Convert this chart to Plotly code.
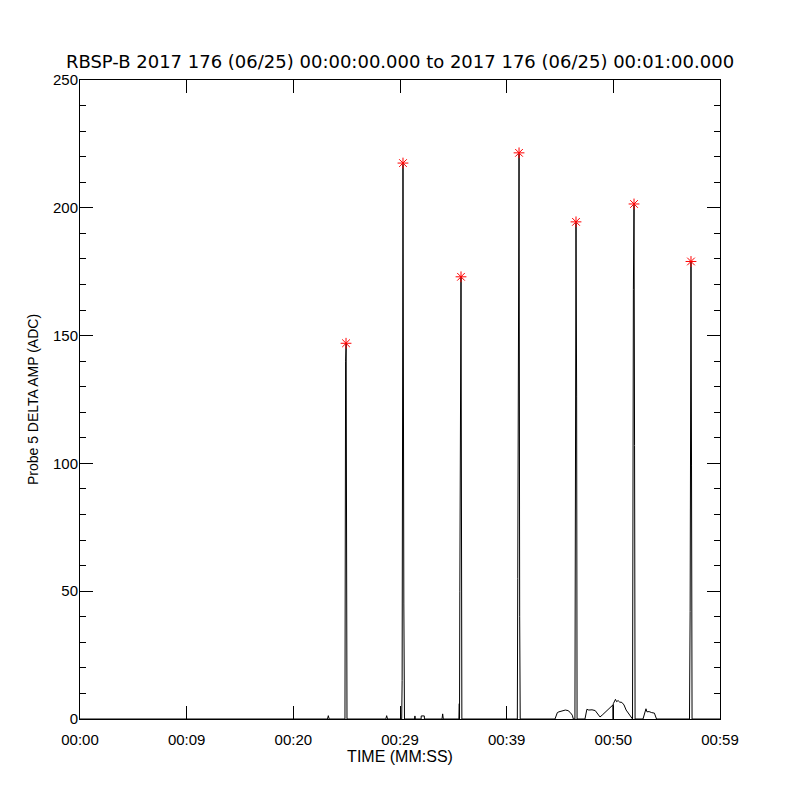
import plotly.graph_objects as go

# Signal trace (seconds after 00:00:00, ADC amplitude)
time_s = [0.0, 23.20, 23.28, 23.36, 24.84, 24.87, 24.90, 24.95, 24.99, 25.03,
          28.67, 28.75, 28.83, 30.16, 30.20, 30.24, 30.28, 30.36, 30.42,
          31.36, 31.40, 31.44, 31.98, 31.99, 32.28, 32.29, 33.94, 34.00, 34.06,
          35.52, 35.56, 35.58, 35.61, 35.66, 35.72, 35.80,
          41.00, 41.04, 41.10, 41.16, 41.22, 41.27,
          44.53, 44.75, 44.90, 45.10, 45.30, 45.50, 45.75, 45.95, 46.15, 46.25,
          46.40, 46.50, 46.56, 46.60,
          47.34, 47.52, 47.70, 48.00, 48.30, 48.55, 48.75, 48.95, 49.20, 49.50,
          49.80, 49.96, 49.98, 50.00, 50.20, 50.30, 50.45, 50.60, 50.80, 51.00,
          51.20, 51.50, 51.75,
          51.80, 51.88, 51.94, 51.99, 52.04,
          52.78, 52.95, 53.06, 53.15, 53.35, 53.60, 53.85, 54.05,
          57.14, 57.20, 57.28, 57.33, 57.38, 60.0]
amp_adc = [0, 0, 1.3, 0, 0, 140, 140, 147, 73, 0,
           0, 1.3, 0, 0, 15, 153, 217, 45, 0,
           0, 1.2, 0, 0, 1.2, 1.2, 0, 0, 2, 0,
           0, 6, 0, 50, 92, 173, 0,
           0, 55, 150, 221, 40, 0,
           0, 2.5, 2.8, 3.0, 3.4, 3.5, 3.3, 2.6, 1.5, 0,
           0, 194, 126, 0,
           0, 3.8, 3.5, 3.6, 3.3, 2.0, 0.8, 1.5, 2.5, 3.5,
           5.0, 5.5, 0, 6.0, 7.7, 6.8, 7.2, 6.6, 6.5, 5.5,
           3.5, 1.5, 0,
           0, 168, 201, 107, 0,
           0, 3.2, 4.0, 2.8, 2.9, 2.5, 2.3, 0,
           0, 42, 179, 99, 0, 0]

# Peak markers
peak_t = [24.94, 30.28, 35.72, 41.16, 46.50, 51.94, 57.28]
peak_amp = [147, 217.5, 173, 221.5, 194.5, 201.5, 179]

x_tickvals = [0, 10, 20, 30, 40, 50, 60]
x_ticktext = ["00:00", "00:09", "00:20", "00:29", "00:39", "00:50", "00:59"]
y_tickvals = [0, 50, 100, 150, 200, 250]

FONT = "Liberation Sans"

fig = go.Figure()
fig.add_trace(go.Scatter(x=time_s, y=amp_adc, mode="lines",
                         line=dict(color="black", width=1), hoverinfo="skip"))
fig.add_trace(go.Scatter(x=peak_t, y=peak_amp, mode="markers",
                         marker=dict(symbol="asterisk-open", size=9, color="red",
                                     line=dict(color="red", width=1))))

fig.update_layout(
    width=800, height=800,
    paper_bgcolor="white", plot_bgcolor="white",
    showlegend=False,
    margin=dict(l=80, r=80, t=80, b=81),
    font=dict(family=FONT, color="black", size=14),
    title=dict(text="RBSP-B 2017 176 (06/25) 00:00:00.000 to 2017 176 (06/25) 00:01:00.000",
               x=0.5, xanchor="center", y=1 - 62 / 800, yanchor="middle",
               font=dict(size=18, family="DejaVu Sans", color="black")),
)
fig.update_xaxes(
    range=[0, 60], tickvals=x_tickvals, ticktext=x_ticktext,
    showline=True, linecolor="black", linewidth=1, mirror="ticks",
    ticks="inside", ticklen=13, tickcolor="black", tickwidth=1,
    showgrid=False, zeroline=False, ticklabelstandoff=7,
    tickfont=dict(size=15, family=FONT),
    title=dict(text="TIME (MM:SS)", font=dict(size=16, family=FONT), standoff=2),
)
fig.update_yaxes(
    range=[0, 250], tickvals=y_tickvals,
    showline=True, linecolor="black", linewidth=1, mirror="ticks",
    ticks="inside", ticklen=13, tickcolor="black", tickwidth=1,
    minor=dict(dtick=10, ticks="inside", ticklen=6, tickcolor="black", showgrid=False),
    showgrid=False, zeroline=False, ticklabelstandoff=-2,
    tickfont=dict(size=15, family=FONT),
    title=dict(text="Probe 5 DELTA AMP (ADC)", font=dict(size=14, family=FONT), standoff=11),
)

fig.write_html("out.html", config={"displayModeBar": False},
               post_script="document.body.style.margin='0';")
